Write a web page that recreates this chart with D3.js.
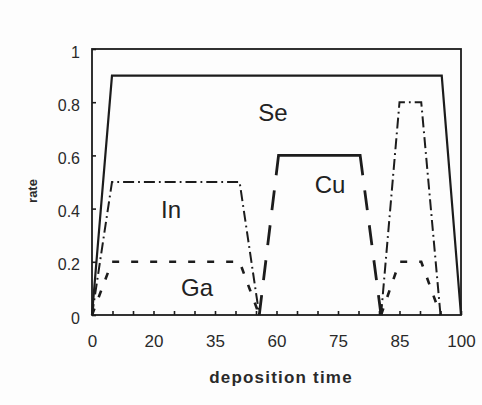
<!DOCTYPE html>
<html>
<head>
<meta charset="utf-8">
<script src="https://cdn.jsdelivr.net/npm/d3@7"></script>
<style>
  html, body { margin: 0; padding: 0; background: #fff; }
  svg { display: block; font-family: "Liberation Sans", Arial, sans-serif; }
</style>
</head>
<body>
<svg id="chart" width="482" height="405"></svg>
<script>
// Axis labels
const timeTicks = [0, 20, 35, 60, 75, 85, 100];
const rateTicks = [0, 0.2, 0.4, 0.6, 0.8, 1];

// Source rate profiles over deposition time (null splits a series into pulses)
const seTime = [0, 6.5, 95.3, 100];
const seRate = [0, 0.9, 0.9, 0];

const inTime = [0, 6.5, 45, 53, null, 82, 85, 90.3, 95];
const inRate = [0, 0.5, 0.5, 0, null, 0, 0.8, 0.8, 0];

const gaTime = [0, 6.5, 45, 53, null, 82, 85, 90.3, 95];
const gaRate = [0, 0.2, 0.2, 0, null, 0, 0.2, 0.2, 0];

const cuTime = [53, 60.5, 78.6, 82];
const cuRate = [0, 0.6, 0.6, 0];

const seriesNames = ["Se", "In", "Cu", "Ga"];

// ---------------------------------------------------------------
const svg = d3.select("#chart");
const W = 482, H = 405;
const plot = { left: 92, right: 461, top: 49, bottom: 315 };
const ink = "#1c1c1c";

svg.append("rect").attr("width", W).attr("height", H).attr("fill", "#fdfdfd");

// The time axis labels are evenly spaced, so the scale is piecewise linear.
const step = (plot.right - plot.left) / (timeTicks.length - 1);
const x = d3.scaleLinear()
  .domain(timeTicks)
  .range(timeTicks.map((_, i) => plot.left + i * step));
const y = d3.scaleLinear().domain([0, 1]).range([plot.bottom, plot.top]);

const zip = (ts, rs) => ts.map((t, i) => [t, rs[i]]);
const line = d3.line()
  .defined(d => d[0] !== null && d[1] !== null)
  .x(d => x(d[0]))
  .y(d => y(d[1]));

// Minor ticks: three per labelled interval
const minorTicks = [];
timeTicks.forEach((t, i) => {
  if (i < timeTicks.length - 1) {
    const n = timeTicks[i + 1];
    minorTicks.push(t, t + (n - t) / 3, t + 2 * (n - t) / 3);
  } else minorTicks.push(t);
});

const gx = svg.append("g").attr("transform", `translate(0,${plot.bottom})`)
  .call(d3.axisBottom(x).tickValues(minorTicks).tickSize(-4).tickFormat(""));
gx.select(".domain").remove();
gx.selectAll(".tick line").attr("stroke", ink).attr("stroke-width", 1.6);

const gxl = svg.append("g").attr("transform", `translate(0,${plot.bottom})`)
  .call(d3.axisBottom(x).tickValues(timeTicks).tickSize(0).tickPadding(20)
    .tickFormat(d => String(d)));
gxl.select(".domain").remove();
gxl.selectAll("text")
  .attr("font-family", "Liberation Sans, Arial, sans-serif")
  .attr("font-size", 17).attr("fill", "#2a2a2a");

const gy = svg.append("g").attr("transform", `translate(${plot.left},0)`)
  .call(d3.axisLeft(y).tickValues(rateTicks).tickSize(-4).tickPadding(12)
    .tickFormat(d => String(d)));
gy.select(".domain").remove();
gy.selectAll(".tick line").attr("stroke", ink).attr("stroke-width", 1.6);
gy.selectAll("text")
  .attr("font-family", "Liberation Sans, Arial, sans-serif")
  .attr("font-size", 16).attr("fill", "#2a2a2a")
  .attr("dy", "0.5em");

// Plot frame
svg.append("rect")
  .attr("x", plot.left).attr("y", plot.top)
  .attr("width", plot.right - plot.left).attr("height", plot.bottom - plot.top)
  .attr("fill", "none").attr("stroke", ink).attr("stroke-width", 1.8);

// Se: solid
svg.append("path").datum(zip(seTime, seRate))
  .attr("d", line).attr("fill", "none")
  .attr("stroke", ink).attr("stroke-width", 2.2).attr("stroke-linejoin", "miter");

// In: dash-dot
svg.append("path").datum(zip(inTime, inRate))
  .attr("d", line).attr("fill", "none")
  .attr("stroke", ink).attr("stroke-width", 2).attr("stroke-dasharray", "11,4,1.8,4");

// Ga: short dashes
svg.append("path").datum(zip(gaTime, gaRate))
  .attr("d", line).attr("fill", "none")
  .attr("stroke", ink).attr("stroke-width", 2.6).attr("stroke-dasharray", "7,12");

// Cu: long dashes on the ramps, continuous across the plateau
const cuPts = zip(cuTime, cuRate).map(d => [x(d[0]), y(d[1])]);
const seg = (a, b) => Math.hypot(b[0] - a[0], b[1] - a[1]);
function rampPattern(len, dash) {
  const k = Math.max(1, Math.round((len - dash) / (dash + 15)));
  const gap = (len - (k + 1) * dash) / k;
  const out = [];
  for (let i = 0; i < k; i++) out.push(dash, gap);
  return { out, dash };
}
const L1 = seg(cuPts[0], cuPts[1]), L2 = seg(cuPts[1], cuPts[2]), L3 = seg(cuPts[2], cuPts[3]);
const up = rampPattern(L1, 20), down = rampPattern(L3, 20);
const downRev = down.out.slice().reverse(); // starts with gap, ends with dash
const cuDash = [...up.out, up.dash + L2 + down.dash, ...downRev.slice(0, -1), down.dash, 200];
svg.append("path").datum(zip(cuTime, cuRate))
  .attr("d", line).attr("fill", "none")
  .attr("stroke", ink).attr("stroke-width", 2.8)
  .attr("stroke-dasharray", cuDash.join(","));

// Series labels
const labelPos = { Se: [273, 121], In: [171, 218], Cu: [330, 193], Ga: [197, 296] };
svg.append("g").selectAll("text").data(seriesNames).join("text")
  .attr("x", d => labelPos[d][0]).attr("y", d => labelPos[d][1])
  .attr("text-anchor", "middle")
  .attr("font-size", 24).attr("fill", "#222")
  .text(d => d);

// Axis titles
svg.append("text")
  .attr("x", 281).attr("y", 383)
  .attr("text-anchor", "middle")
  .attr("font-size", 17).attr("font-weight", "bold")
  .attr("letter-spacing", 1.2).attr("fill", "#2a2a2a")
  .text("deposition time");

svg.append("text")
  .attr("transform", "translate(37,191) rotate(-90)")
  .attr("text-anchor", "middle")
  .attr("font-size", 13).attr("font-weight", "bold").attr("fill", "#2a2a2a")
  .text("rate");
</script>
</body>
</html>
